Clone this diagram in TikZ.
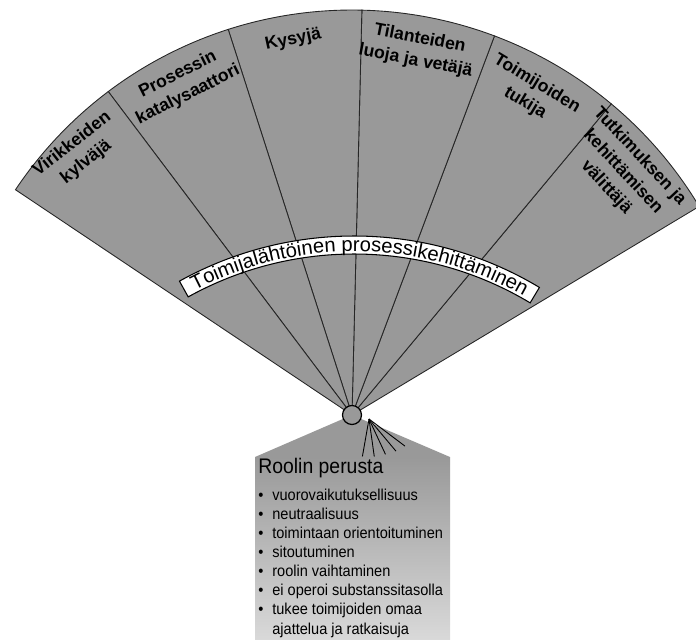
\documentclass[tikz,border=0pt]{standalone}
\usepackage{fontspec}
\setmainfont{Liberation Sans}
\newfontfamily\condfont[FakeStretch=0.92]{Liberation Sans}
\usepackage{tikz}
\usetikzlibrary{calc,decorations.text}
\definecolor{fangray}{gray}{0.6}
\tikzstyle{blade} = [fill=fangray, draw=black!85, line width=0.5pt]
\tikzstyle{rib} = [black, line width=0.5pt]
\tikzstyle{lbl} = [font=\fontsize{10}{13}\selectfont\bfseries, align=center, inner sep=0pt]
\tikzstyle{band} = [fill=white, draw=black, line width=0.6pt]
\tikzstyle{item} = [font=\condfont\fontsize{9}{10.9}\selectfont, anchor=base west, inner sep=0pt]
\newcommand\bannerfont{\fontsize{11.5}{13}\selectfont}

\begin{document}
\begin{tikzpicture}[x=0.02cm,y=0.02cm]
  \useasboundingbox (0,0) rectangle (696,-639);
  \def\R{405}
  \coordinate (P) at (352,-415);  % pivot of the fan
  \coordinate (B) at (354,-596);  % centre of the banner arc
  \coordinate (Q) at (369,-419);  % foot of the lower ribs
  % lower part
  \fill[fangray] (P) -- (255,-457) -- (450,-457) -- cycle;
  \shade[top color=fangray, bottom color=black!15] (255,-457) rectangle (450,-639);
  % blades
  \foreach \s/\e in {31/50.2, 50.2/69.4, 69.4/88.6, 88.6/107.8, 107.8/127, 127/146.2}
    \filldraw[blade] (P) -- ++(\s:\R) arc[start angle=\s, end angle=\e, radius=\R] -- cycle;
  % banner
  \filldraw[band] ([shift={(119:342)}]B) arc[start angle=119, end angle=59, radius=342]
    -- ([shift={(59:360)}]B) arc[start angle=59, end angle=119, radius=360] -- cycle;
  \path[decorate, decoration={text along path, text align=center,
      text={|\bannerfont|Toimijalähtöinen prosessikehittäminen}}]
    ([shift={(119:344.5)}]B) arc[start angle=119, end angle=59, radius=344.5];
  % blade labels
  \node[lbl, rotate=38] (virikkeet) at ([shift={(136.2:378)}]P) {Virikkeiden\\kylväjä};
  \node[lbl, rotate=26.5] (katalyytti) at ([shift={(117.1:371)}]P) {Prosessin\\katalysaattori};
  \node[lbl, rotate=12] (kysyja) at ([shift={(98.9:380)}]P) {Kysyjä};
  \node[lbl, rotate=-11] (tilanteet) at ([shift={(79.8:371)}]P) {Tilanteiden\\luoja ja vetäjä};
  \node[lbl, rotate=-31] (tukija) at ([shift={(60.9:368)}]P) {Toimijoiden\\tukija};
  \node[lbl, rotate=-47] (valittaja) at ([shift={(41.9:364)}]P) {Tutkimuksen ja\\kehittämisen\\välittäjä};
  % lower ribs and pivot
  \foreach \a/\l in {-100/38, -82/38, -65/39, -50/42, -37/45}
    \draw[rib] (Q) -- ++(\a:\l);
  \filldraw[fill=black!40, draw=black, line width=0.7pt] (P) circle (9.5);
  % basis of the role
  \node[font=\condfont\fontsize{12}{14}\selectfont, anchor=base west, inner sep=0pt] (perusta) at (258,-473) {Roolin perusta};
  \foreach \t [count=\i] in {vuorovaikutuksellisuus, neutraalisuus, toimintaan orientoituminen,
      sitoutuminen, roolin vaihtaminen, ei operoi substanssitasolla, tukee toimijoiden omaa} {
    \node[item] (dot\i) at (258,{-500-19.1*(\i-1)}) {\textbullet};
    \node[item] (rooli\i) at (272,{-500-19.1*(\i-1)}) {\t};
  }
  \node[item] (rooli8) at (272,-634) {ajattelua ja ratkaisuja};
\end{tikzpicture}
\end{document}
